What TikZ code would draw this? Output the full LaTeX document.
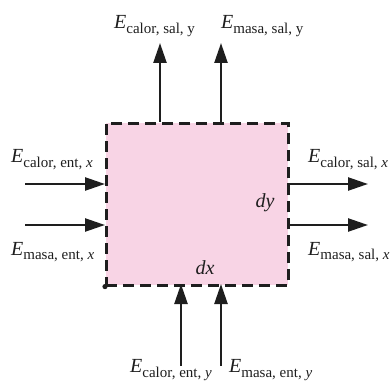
\documentclass[tikz,border=0pt]{standalone}
\usepackage{fontspec}
\setmainfont{Liberation Serif}
\usetikzlibrary{arrows.meta}
\definecolor{boxpink}{RGB}{248,212,229}
\definecolor{ink}{RGB}{30,30,30}
\newcommand{\Elab}[2]{\textit{E}\raisebox{-0.25em}{\fontsize{15}{16}\selectfont #1#2}}
\tikzset{
  flow/.style={line width=2.4pt, draw=ink, -{Triangle[length=20pt,width=13pt]}},
  lbl/.style={font=\fontsize{20}{22}\selectfont, text=ink, inner sep=0pt},
  dim/.style={font=\fontsize{20}{22}\selectfont\itshape, text=ink, inner sep=0pt},
}
\begin{document}
\begin{tikzpicture}[x=1pt,y=-1pt]
\useasboundingbox (0,0) rectangle (391,382);
% control volume
\node[draw=ink, fill=boxpink, line width=2.6pt, dash pattern=on 11pt off 6pt,
      minimum width=182pt, minimum height=162pt, inner sep=0pt, anchor=north west] (box) at (105,122) {};
\fill[ink] (box.south west) circle (2.6pt);
\node[dim] (dy) at (265,203) {dy};
\node[dim] (dx) at (205,268) {dx};
% coordinates for arrow ends
\coordinate (t1s) at (160,122); \coordinate (t1e) at (160,43);
\coordinate (t2s) at (221,122); \coordinate (t2e) at (221,43);
\coordinate (l1s) at (25,184);  \coordinate (l1e) at (105,184);
\coordinate (l2s) at (25,225);  \coordinate (l2e) at (105,225);
\coordinate (r1s) at (287,184); \coordinate (r1e) at (368,184);
\coordinate (r2s) at (287,225); \coordinate (r2e) at (368,225);
\coordinate (b1s) at (181,366); \coordinate (b1e) at (181,284);
\coordinate (b2s) at (221,366); \coordinate (b2e) at (221,284);
\draw[flow] (t1s) -- (t1e);
\draw[flow] (t2s) -- (t2e);
\draw[flow] (l1s) -- (l1e);
\draw[flow] (l2s) -- (l2e);
\draw[flow] (r1s) -- (r1e);
\draw[flow] (r2s) -- (r2e);
\draw[flow] (b1s) -- (b1e);
\draw[flow] (b2s) -- (b2e);
% labels
\node[lbl, anchor=base west] (lt1) at (114,29) {\Elab{calor, sal, }{y}};
\node[lbl, anchor=base west] (lt2) at (221,29) {\Elab{masa, sal, }{y}};
\node[lbl, anchor=base west] (ll1) at (11,163) {\Elab{calor, ent, }{\textit{x}}};
\node[lbl, anchor=base west] (ll2) at (11,255) {\Elab{masa, ent, }{\textit{x}}};
\node[lbl, anchor=base west] (lr1) at (308,163) {\Elab{calor, sal, }{\textit{x}}};
\node[lbl, anchor=base west] (lr2) at (308,255) {\Elab{masa, sal, }{\textit{x}}};
\node[lbl, anchor=base west] (lb1) at (130,372) {\Elab{calor, ent, }{\textit{y}}};
\node[lbl, anchor=base west] (lb2) at (229,372) {\Elab{masa, ent, }{\textit{y}}};
\end{tikzpicture}
\end{document}
